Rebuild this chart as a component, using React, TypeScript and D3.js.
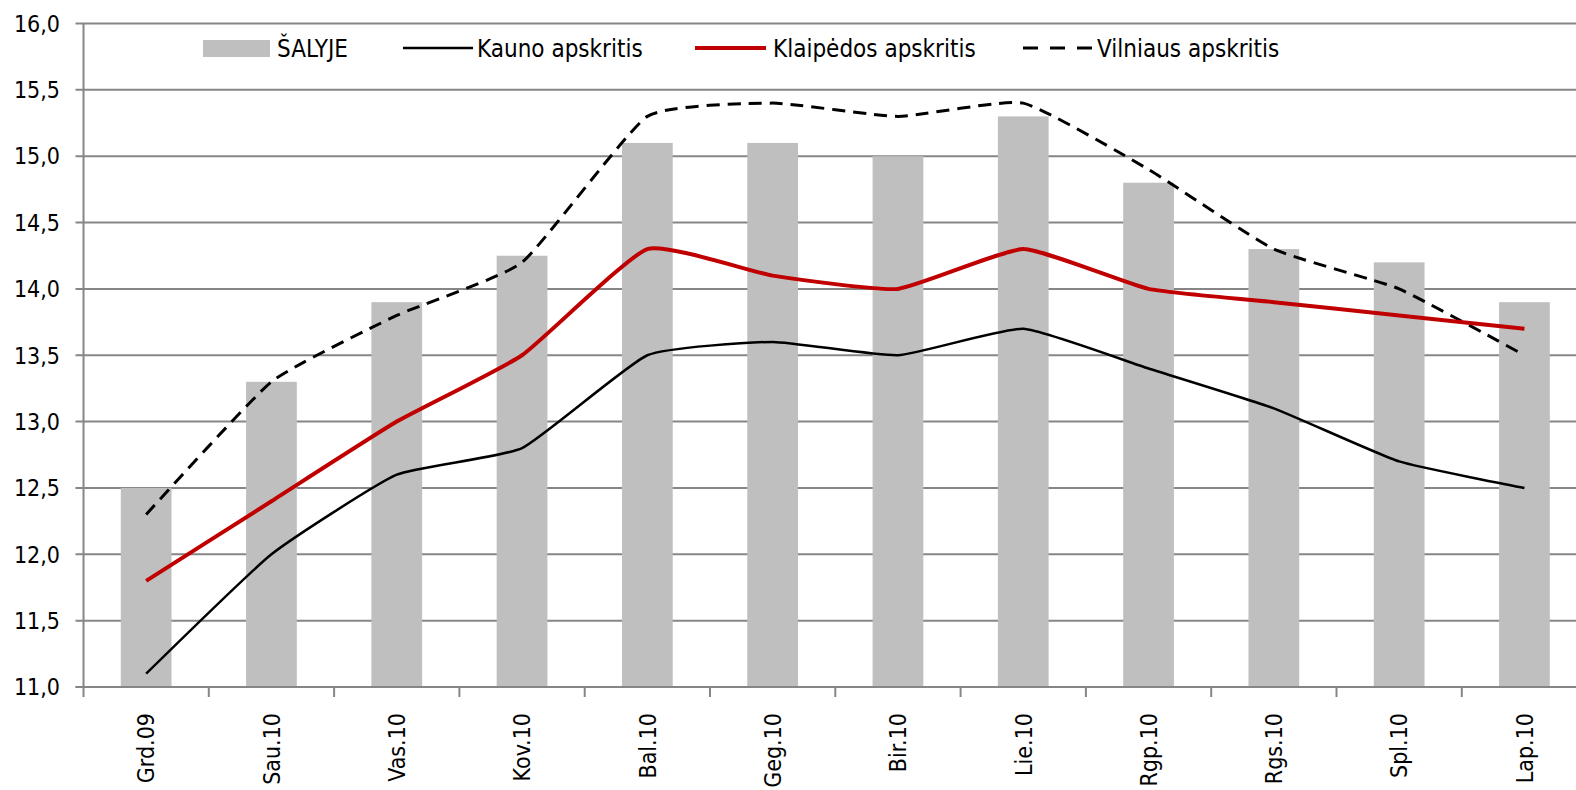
import React, { useEffect, useRef } from "react";
import * as d3 from "d3";

const months = ["Grd.09", "Sau.10", "Vas.10", "Kov.10", "Bal.10", "Geg.10", "Bir.10", "Lie.10", "Rgp.10", "Rgs.10", "Spl.10", "Lap.10"];
const salyje = [12.5, 13.3, 13.9, 14.25, 15.1, 15.1, 15.0, 15.3, 14.8, 14.3, 14.2, 13.9];
const kauno = [11.1, 12.0, 12.6, 12.8, 13.5, 13.6, 13.5, 13.7, 13.4, 13.1, 12.7, 12.5];
const klaipedos = [11.8, 12.4, 13.0, 13.5, 14.3, 14.1, 14.0, 14.3, 14.0, 13.9, 13.8, 13.7];
const vilniaus = [12.3, 13.3, 13.8, 14.2, 15.3, 15.4, 15.3, 15.4, 14.9, 14.3, 14.0, 13.5];
const yTicks = [11, 11.5, 12, 12.5, 13, 13.5, 14, 14.5, 15, 15.5, 16];

const FONT = "'DejaVu Sans Condensed', 'Liberation Sans Narrow', 'Liberation Sans', sans-serif";

const App = () => {
  const svgRef = useRef<SVGSVGElement>(null);

  useEffect(() => {
    const width = 1576;
    const left = 83.5;
    const step = 125.3;

    const svg = d3.select(svgRef.current);
    svg.selectAll("*").remove();

    const x = d3.scaleBand<string>()
      .domain(months)
      .range([left, left + step * months.length])
      .paddingInner(0)
      .paddingOuter(0);

    const y = d3.scaleLinear().domain([11, 16]).range([687, 23.5]);

    // gridlines
    svg.append("g")
      .selectAll("line")
      .data(yTicks)
      .enter()
      .append("line")
      .attr("x1", left - 8)
      .attr("x2", width)
      .attr("y1", d => y(d))
      .attr("y2", d => y(d))
      .attr("stroke", "#868686")
      .attr("stroke-width", 2);

    // y labels
    svg.append("g")
      .selectAll("text")
      .data(yTicks)
      .enter()
      .append("text")
      .attr("x", 60)
      .attr("y", d => y(d))
      .attr("dy", "0.36em")
      .attr("text-anchor", "end")
      .attr("font-family", FONT)
      .attr("font-size", 23)
      .attr("fill", "#000")
      .text(d => d3.format(".1f")(d).replace(".", ","));

    // bars
    const barW = step * 0.405;
    svg.append("g")
      .selectAll("rect")
      .data(salyje)
      .enter()
      .append("rect")
      .attr("x", (_, i) => x(months[i])! + step / 2 - barW / 2)
      .attr("y", d => y(d))
      .attr("width", barW)
      .attr("height", d => y(11) - y(d))
      .attr("fill", "#bfbfbf");

    // axes lines
    svg.append("line")
      .attr("x1", left).attr("x2", left)
      .attr("y1", y(16)).attr("y2", y(11) + 10)
      .attr("stroke", "#868686").attr("stroke-width", 2);
    svg.append("line")
      .attr("x1", left - 8).attr("x2", width)
      .attr("y1", y(11)).attr("y2", y(11))
      .attr("stroke", "#868686").attr("stroke-width", 2);

    // x ticks
    svg.append("g")
      .selectAll("line")
      .data(months.slice(1))
      .enter()
      .append("line")
      .attr("x1", d => x(d)!)
      .attr("x2", d => x(d)!)
      .attr("y1", y(11))
      .attr("y2", y(11) + 10)
      .attr("stroke", "#868686")
      .attr("stroke-width", 2);

    // x labels
    svg.append("g")
      .selectAll("text")
      .data(months)
      .enter()
      .append("text")
      .attr("transform", d => `translate(${x(d)! + step / 2},713) rotate(-90)`)
      .attr("dy", "0.36em")
      .attr("text-anchor", "end")
      .attr("font-family", FONT)
      .attr("font-size", 23)
      .attr("fill", "#000")
      .text(d => d);

    // excel-style smoothed lines, only lightly rounded at the joints
    const line = d3.line<number>()
      .x((_, i) => x(months[i])! + step / 2)
      .y(d => y(d))
      .curve(d3.curveCardinal.tension(0.55));

    svg.append("path")
      .datum(vilniaus)
      .attr("fill", "none")
      .attr("stroke", "#000")
      .attr("stroke-width", 3)
      .attr("stroke-dasharray", "13,8")
      .attr("d", line);

    svg.append("path")
      .datum(kauno)
      .attr("fill", "none")
      .attr("stroke", "#000")
      .attr("stroke-width", 2.5)
      .attr("d", line);

    svg.append("path")
      .datum(klaipedos)
      .attr("fill", "none")
      .attr("stroke", "#c00000")
      .attr("stroke-width", 4)
      .attr("d", line);

    // legend
    const legY = 48;
    const leg = svg.append("g").attr("font-family", FONT).attr("font-size", 24);
    leg.append("rect").attr("x", 203).attr("y", 40).attr("width", 67).attr("height", 17).attr("fill", "#bfbfbf");
    leg.append("text").attr("x", 277).attr("y", legY).attr("dy", "0.36em").text("ŠALYJE");

    leg.append("line").attr("x1", 403).attr("x2", 473).attr("y1", legY).attr("y2", legY)
      .attr("stroke", "#000").attr("stroke-width", 2.5);
    leg.append("text").attr("x", 477).attr("y", legY).attr("dy", "0.36em").text("Kauno apskritis");

    leg.append("line").attr("x1", 695).attr("x2", 766).attr("y1", legY).attr("y2", legY)
      .attr("stroke", "#c00000").attr("stroke-width", 4);
    leg.append("text").attr("x", 773).attr("y", legY).attr("dy", "0.36em").text("Klaipėdos apskritis");

    leg.append("line").attr("x1", 1023).attr("x2", 1092).attr("y1", legY).attr("y2", legY)
      .attr("stroke", "#000").attr("stroke-width", 3).attr("stroke-dasharray", "15,12");
    leg.append("text").attr("x", 1097).attr("y", legY).attr("dy", "0.36em").text("Vilniaus apskritis");
  }, []);

  return (
    <svg
      ref={svgRef}
      width={1576}
      height={790}
      style={{ position: "absolute", left: 0, top: 0, background: "#fff" }}
    />
  );
};

export default App;
